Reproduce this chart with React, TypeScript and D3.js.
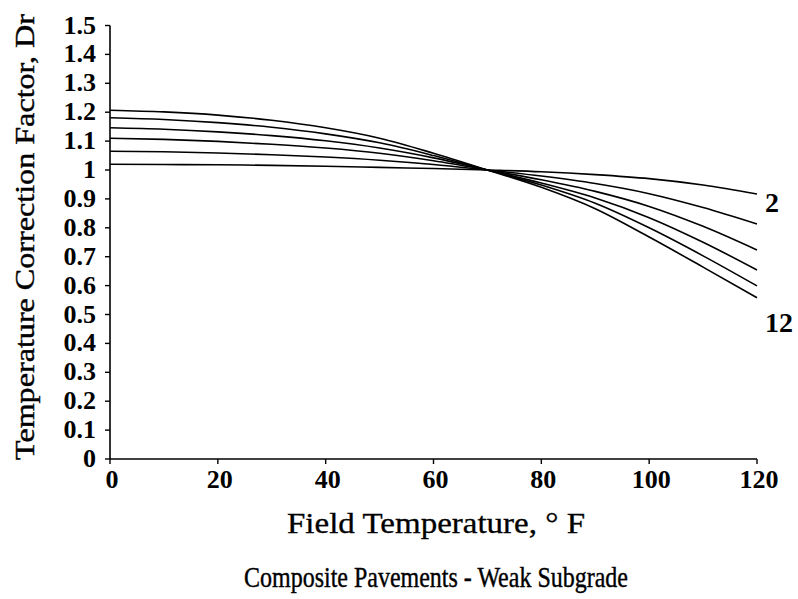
import React from "react";
import * as d3 from "d3";

const temps = [0, 10, 20, 30, 40, 50, 60, 70, 80, 90, 100, 110, 120];
const s2 = [1.02, 1.019, 1.018, 1.016, 1.013, 1.009, 1.005, 1.0, 0.994, 0.984, 0.97, 0.948, 0.917];
const s4 = [1.065, 1.063, 1.059, 1.053, 1.045, 1.034, 1.019, 1.0, 0.979, 0.953, 0.918, 0.87, 0.813];
const s6 = [1.11, 1.106, 1.099, 1.089, 1.076, 1.058, 1.032, 1.0, 0.966, 0.926, 0.874, 0.805, 0.723];
const s8 = [1.146, 1.141, 1.132, 1.119, 1.101, 1.076, 1.042, 1.0, 0.955, 0.903, 0.835, 0.75, 0.654];
const s10 = [1.181, 1.175, 1.164, 1.148, 1.125, 1.094, 1.05, 1.0, 0.948, 0.885, 0.8, 0.703, 0.599];
const s12 = [1.207, 1.201, 1.19, 1.172, 1.146, 1.11, 1.058, 1.0, 0.94, 0.866, 0.768, 0.664, 0.558];
const seriesNames = ["2", "4", "6", "8", "10", "12"];
const seriesValues = [s2, s4, s6, s8, s10, s12];
const xTicks = [0, 20, 40, 60, 80, 100, 120];
const yTicks = [0, 0.1, 0.2, 0.3, 0.4, 0.5, 0.6, 0.7, 0.8, 0.9, 1, 1.1, 1.2, 1.3, 1.4, 1.5];
const labelledSeries = ["2", "12"];

const FONT = "'Liberation Serif', 'Times New Roman', 'DejaVu Serif', serif";

export default function App() {
  const W = 798;
  const H = 599;
  const x = d3.scaleLinear().domain([0, 120]).range([110, 757]);
  const y = d3.scaleLinear().domain([0, 1.5]).range([459, 25.5]);
  const line = d3
    .line<number>()
    .x((_, i) => x(temps[i]))
    .y((d) => y(d))
    .curve(d3.curveMonotoneX);

  const fmt = (v: number) => (v === 0 ? "0" : v === 1 ? "1" : d3.format(".1f")(v));
  const textStyle = { fontFamily: FONT };

  return (
    <svg
      width={W}
      height={H}
      style={{ position: "absolute", left: 0, top: 0, background: "#fff" }}
    >
      <rect x={0} y={0} width={W} height={H} fill="#fff" />
      {/* axes */}
      <line x1={x(0)} x2={x(0)} y1={y(0)} y2={y(1.5)} stroke="#000" strokeWidth={1.6} />
      <line x1={x(0)} x2={x(120)} y1={y(0)} y2={y(0)} stroke="#000" strokeWidth={1.6} />
      {yTicks.map((t) => (
        <g key={"y" + t}>
          <line x1={x(0) - 5} x2={x(0)} y1={y(t)} y2={y(t)} stroke="#000" strokeWidth={1.4} />
          <text
            x={96}
            y={y(t) + 8}
            textAnchor="end"
            fontSize={26}
            fontWeight="bold"
            fill="#000"
            style={textStyle}
          >
            {fmt(t)}
          </text>
        </g>
      ))}
      {xTicks.map((t) => (
        <g key={"x" + t}>
          <line x1={x(t)} x2={x(t)} y1={y(0)} y2={y(0) + 5} stroke="#000" strokeWidth={1.4} />
          <text
            x={x(t) + 2}
            y={488}
            textAnchor="middle"
            fontSize={26}
            fontWeight="bold"
            fill="#000"
            style={textStyle}
          >
            {t}
          </text>
        </g>
      ))}
      {/* curves */}
      {seriesValues.map((vals, i) => (
        <path key={seriesNames[i]} d={line(vals) || ""} fill="none" stroke="#000" strokeWidth={1.6} />
      ))}
      {seriesValues.map((vals, i) =>
        labelledSeries.includes(seriesNames[i]) ? (
          <text
            key={"l" + seriesNames[i]}
            x={x(120) + 8}
            y={y(vals[vals.length - 1]) + (i === 0 ? 18 : 34)}
            fontSize={28}
            fontWeight="bold"
            fill="#000"
            style={textStyle}
          >
            {seriesNames[i]}
          </text>
        ) : null
      )}
      {/* titles */}
      <text
        x={0}
        y={0}
        transform={`translate(34, 237) rotate(-90)`}
        textAnchor="middle"
        fontSize={27}
        fill="#000"
        stroke="#000"
        strokeWidth={0.4}
        textLength={446}
        lengthAdjust="spacingAndGlyphs"
        style={textStyle}
      >
        Temperature Correction Factor, Dr
      </text>
      <text
        x={436}
        y={533}
        textAnchor="middle"
        fontSize={29}
        fill="#000"
        stroke="#000"
        strokeWidth={0.3}
        textLength={298}
        lengthAdjust="spacingAndGlyphs"
        style={textStyle}
      >
        Field Temperature, ° F
      </text>
      <text
        x={436}
        y={587}
        textAnchor="middle"
        fontSize={29}
        fill="#000"
        stroke="#000"
        strokeWidth={0.4}
        textLength={384}
        lengthAdjust="spacingAndGlyphs"
        style={textStyle}
      >
        Composite Pavements - Weak Subgrade
      </text>
    </svg>
  );
}
